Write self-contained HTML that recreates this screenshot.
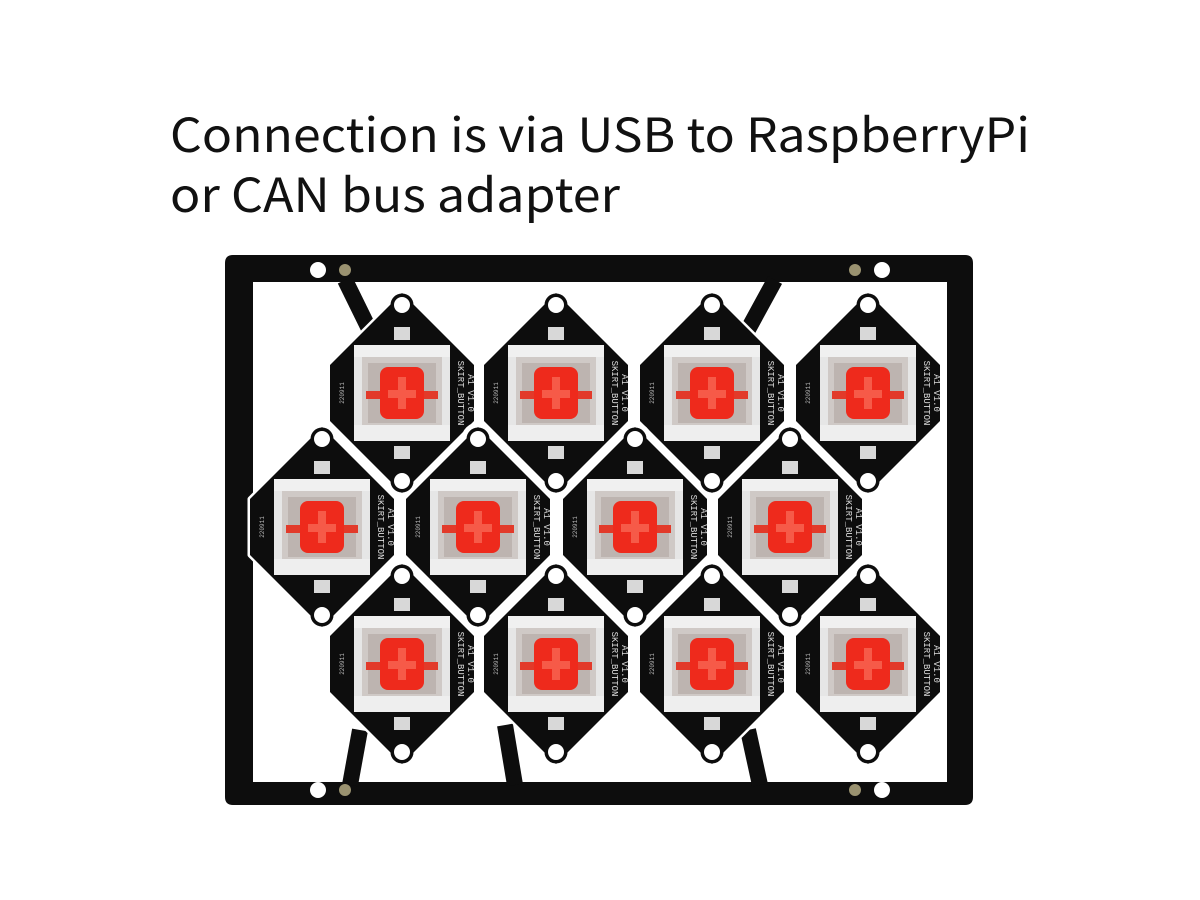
<!DOCTYPE html>
<html><head><meta charset="utf-8"><style>
html,body{margin:0;padding:0;background:#fff;width:1200px;height:900px;overflow:hidden}
svg{display:block}
</style></head><body>
<svg width="1200" height="900" viewBox="0 0 1200 900" xmlns="http://www.w3.org/2000/svg">
<defs>
<g id="tile">
 <g fill="#0d0d0d" stroke="#fff" stroke-width="5" stroke-linejoin="round">
  <polygon points="0,-100 72,-28 72,28 0,100 -72,28 -72,-28"/>
  <circle cx="0" cy="-88" r="14"/>
  <circle cx="0" cy="88" r="14"/>
 </g>
 <polygon points="0,-100 72,-28 72,28 0,100 -72,28 -72,-28" fill="#0d0d0d"/>
 <circle cx="0" cy="-88" r="8" fill="#fff"/>
 <circle cx="0" cy="88" r="8" fill="#fff"/>
 <rect x="-8" y="-66" width="16" height="13" fill="#d8d8d8"/>
 <rect x="-8" y="53" width="16" height="13" fill="#d8d8d8"/>
 <rect x="-48" y="-48" width="96" height="96" rx="3" fill="#e6e6e6"/>
 <rect x="-40" y="-38" width="80" height="76" fill="#cfc9c6"/>
 <rect x="-34" y="-30" width="68" height="60" fill="#bdb4b0"/>
 <rect x="-48" y="32" width="96" height="16" fill="#eeeeee"/>
 <rect x="-48" y="-48" width="96" height="12" fill="#f0f0f0"/>
 <rect x="-36" y="-2" width="72" height="8" fill="#e23a2a"/>
 <rect x="-22" y="-26" width="44" height="52" rx="8" fill="#ee2a1c"/>
 <rect x="-4" y="-16" width="8" height="32" fill="#f65a48"/>
 <rect x="-14" y="-3" width="28" height="8" fill="#f65a48"/>
 <text x="0" y="0" transform="translate(56,0) rotate(90)" font-family="Liberation Mono, monospace" font-size="9" fill="#ddd" text-anchor="middle">SKIRT_BUTTON</text>
 <text x="0" y="0" transform="translate(66,0) rotate(90)" font-family="Liberation Mono, monospace" font-size="9" fill="#ddd" text-anchor="middle">A1 V1.0</text>
 <text x="0" y="0" transform="translate(-58,0) rotate(-90)" font-family="Liberation Mono, monospace" font-size="6" fill="#bbb" text-anchor="middle">220911</text>
</g>
</defs>
<text x="170" y="152" font-family="'Noto Sans CJK JP', 'Liberation Sans', sans-serif" font-size="47" fill="#111" textLength="860" lengthAdjust="spacingAndGlyphs">Connection is via USB to RaspberryPi</text>
<text x="170" y="212" font-family="'Noto Sans CJK JP', 'Liberation Sans', sans-serif" font-size="47" fill="#111" textLength="450" lengthAdjust="spacingAndGlyphs">or CAN bus adapter</text>
<!-- frame -->
<path fill="#0d0d0d" fill-rule="evenodd" d="M233,255 H965 Q973,255 973,263 V797 Q973,805 965,805 H233 Q225,805 225,797 V263 Q225,255 233,255 Z M253,282 H947 V782 H253 Z"/>
<!-- connecting strips -->
<g stroke="#0d0d0d" stroke-width="16" stroke-linecap="butt">
 <line x1="345" y1="280" x2="372" y2="335"/>
 <line x1="775" y1="280" x2="745" y2="335"/>
 <line x1="350" y1="785" x2="360" y2="730"/>
 <line x1="515" y1="785" x2="505" y2="725"/>
 <line x1="760" y1="785" x2="748" y2="730"/>
</g>
<circle cx="318" cy="270" r="8" fill="#fff"/><circle cx="345" cy="270" r="6" fill="#9a9270"/>
<circle cx="855" cy="270" r="6" fill="#9a9270"/><circle cx="882" cy="270" r="8" fill="#fff"/>
<circle cx="318" cy="790" r="8" fill="#fff"/><circle cx="345" cy="790" r="6" fill="#9a9270"/>
<circle cx="855" cy="790" r="6" fill="#9a9270"/><circle cx="882" cy="790" r="8" fill="#fff"/>
<!-- tiles -->
<use href="#tile" x="402" y="393"/>
<use href="#tile" x="556" y="393"/>
<use href="#tile" x="712" y="393"/>
<use href="#tile" x="868" y="393"/>
<use href="#tile" x="322" y="527"/>
<use href="#tile" x="478" y="527"/>
<use href="#tile" x="635" y="527"/>
<use href="#tile" x="790" y="527"/>
<use href="#tile" x="402" y="664"/>
<use href="#tile" x="556" y="664"/>
<use href="#tile" x="712" y="664"/>
<use href="#tile" x="868" y="664"/>
</svg>
</body></html>
